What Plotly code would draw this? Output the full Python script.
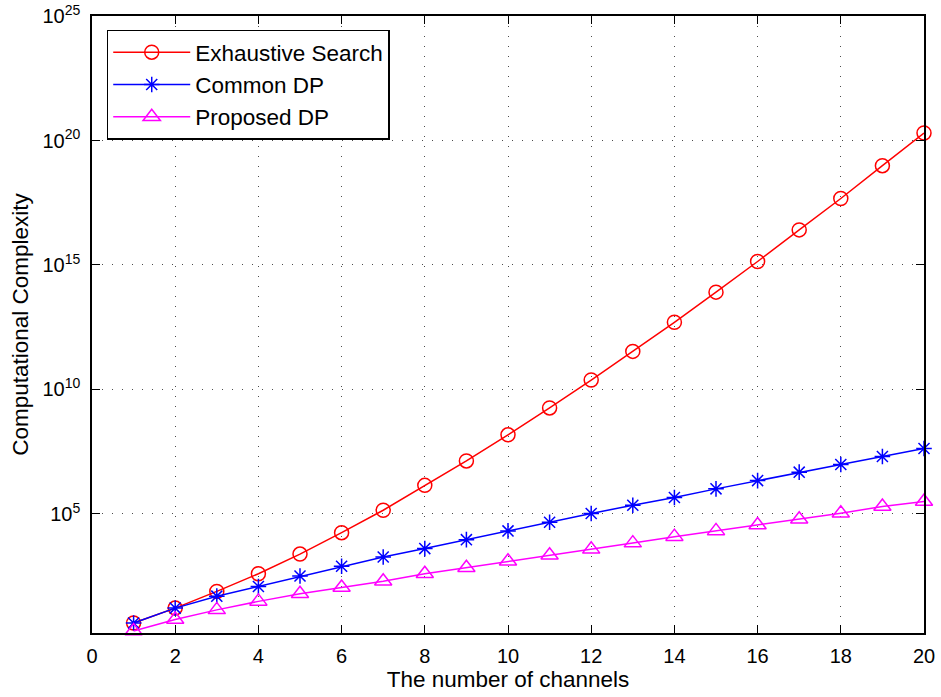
import plotly.graph_objects as go

channels = list(range(1, 21))

exhaustive_search = [4.2, 16.6, 77.6, 398, 2.45e3, 1.78e4, 1.41e5, 1.41e6, 1.35e7, 1.51e8,
                     1.82e9, 2.40e10, 3.39e11, 5.01e12, 8.13e13, 1.38e15, 2.57e16, 4.68e17,
                     9.77e18, 2.0e20]
common_dp = [4.2, 16.6, 50, 123, 324, 794, 1862, 4074, 9333, 2.09e4,
             4.68e4, 1.05e5, 2.24e5, 4.57e5, 1.02e6, 2.19e6, 4.79e6, 9.77e6,
             2.04e7, 4.27e7]
proposed_dp = [2.0, 5.8, 14.1, 30.9, 63, 112, 200, 398, 692, 1259,
               2188, 3802, 6761, 1.23e4, 2.09e4, 3.63e4, 6.17e4, 1.07e5,
               2.0e5, 3.16e5]

x_ticks = list(range(0, 21, 2))
y_tick_exponents = [5, 10, 15, 20, 25]

FONT = "Liberation Sans, Arial, sans-serif"

fig = go.Figure()
fig.add_trace(go.Scatter(
    x=channels, y=exhaustive_search, name="Exhaustive Search", mode="lines+markers",
    line=dict(color="#FF0000", width=1.5),
    marker=dict(symbol="circle-open", size=14, color="#FF0000", line=dict(width=1.5)),
    cliponaxis=False))
fig.add_trace(go.Scatter(
    x=channels, y=common_dp, name="Common DP", mode="lines+markers",
    line=dict(color="#0000FF", width=1.5),
    marker=dict(symbol="asterisk-open", size=13, color="#0000FF", line=dict(width=1.5, color="#0000FF")),
    cliponaxis=False))
fig.add_trace(go.Scatter(
    x=channels, y=proposed_dp, name="Proposed DP", mode="lines+markers",
    line=dict(color="#FF00FF", width=1.5),
    marker=dict(symbol="triangle-up-open", size=15, color="#FF00FF", line=dict(width=1.5)),
    cliponaxis=False))

axis_common = dict(
    showline=True, linecolor="black", linewidth=1.5, mirror="ticks",
    ticks="inside", ticklen=8, tickwidth=1, tickcolor="black",
    showgrid=True, gridcolor="rgba(0,0,0,0.7)", gridwidth=1, griddash="1px,9px",
    zeroline=False, tickfont=dict(family=FONT, size=20, color="black"),
)

fig.update_xaxes(
    range=[0, 20], tickvals=x_ticks, ticktext=[str(v) for v in x_ticks],
    title=dict(text="The number of channels", font=dict(family=FONT, size=22.5, color="black"), standoff=3),
    ticklabelstandoff=4,
    **axis_common)
fig.update_yaxes(
    type="log", range=[0.22, 25],
    tickvals=[float(10.0 ** e) for e in y_tick_exponents],
    ticktext=[f"10<sup>{e}</sup>" for e in y_tick_exponents],
    title=dict(text="Computational Complexity", font=dict(family=FONT, size=22.5, color="black"), standoff=8),
    ticklabelstandoff=6,
    **axis_common)

fig.update_layout(
    width=941, height=697,
    margin=dict(l=92, r=17, t=16, b=64, autoexpand=False),
    paper_bgcolor="white", plot_bgcolor="white",
    font=dict(family=FONT, size=22, color="black"),
    showlegend=True,
    legend=dict(
        x=0.0177, y=0.978, xanchor="left", yanchor="top",
        bgcolor="white", bordercolor="black", borderwidth=1.5,
        font=dict(family=FONT, size=22.5, color="black"),
        itemwidth=77, tracegroupgap=4,
    ),
)

fig.write_html("out.html")
